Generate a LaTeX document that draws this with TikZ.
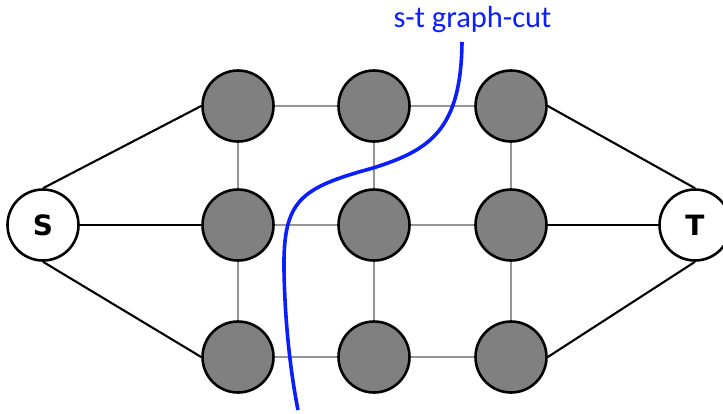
\documentclass[tikz,border=0pt]{standalone}
\usepackage{fontspec}
\newfontfamily\labelfont{DejaVu Sans}
\newfontfamily\cutfont{Carlito}
\definecolor{cutblue}{RGB}{10,30,255}
\definecolor{gridgray}{RGB}{150,150,150}
\definecolor{pixelgray}{RGB}{128,128,128}
\begin{document}
\begin{tikzpicture}[x=1pt,y=-1pt,
  pixel/.style={circle,draw=black,line width=2.6pt,fill=pixelgray,minimum size=71pt,inner sep=0pt},
  terminal/.style={circle,draw=black,line width=2.6pt,fill=white,minimum size=71pt,inner sep=0pt,
    font=\labelfont\bfseries\fontsize{28}{28}\selectfont},
  nlink/.style={draw=gridgray,line width=2.8pt},
  tlink/.style={draw=black,line width=2.1pt},
  cut/.style={draw=cutblue,line width=3.6pt}]
\useasboundingbox (0,0) rectangle (723,413);

% pixel grid
\foreach \c/\x in {1/238,2/374,3/511}
  \foreach \r/\y in {1/106,2/225,3/357}
    \node[pixel] (p\r\c) at (\x,\y) {};

% terminals
\node[terminal] (S) at (43,225) {S};
\node[terminal] (T) at (695,225) {T};

% neighbourhood links
\foreach \r in {1,2,3} {
  \draw[nlink] (p\r1) -- (p\r2);
  \draw[nlink] (p\r2) -- (p\r3);
}
\foreach \c in {1,2,3} {
  \draw[nlink] (p1\c) -- (p2\c);
  \draw[nlink] (p2\c) -- (p3\c);
}

% terminal links
\draw[tlink] (S.north) -- (p11.west);
\draw[tlink] (S.east) -- (p21.west);
\draw[tlink] (S.south) -- (p31.west);
\draw[tlink] (p13.east) -- (T.north);
\draw[tlink] (p23.east) -- (T.west);
\draw[tlink] (p33.east) -- (T.south);

% the cut
\node[text=cutblue,font=\cutfont\fontsize{30.5}{30.5}\selectfont,anchor=base] (cutlabel) at (472.5,27.5) {s-t graph-cut};
\coordinate (cuttop) at (462,42);
\coordinate (cutbottom) at (298,410);
\draw[cut] (cuttop) .. controls (461,130) and (430,150) .. (373,168)
  .. controls (300,188) and (283,200) .. (284,270)
  .. controls (285,330) and (292,380) .. (cutbottom);
\end{tikzpicture}
\end{document}
